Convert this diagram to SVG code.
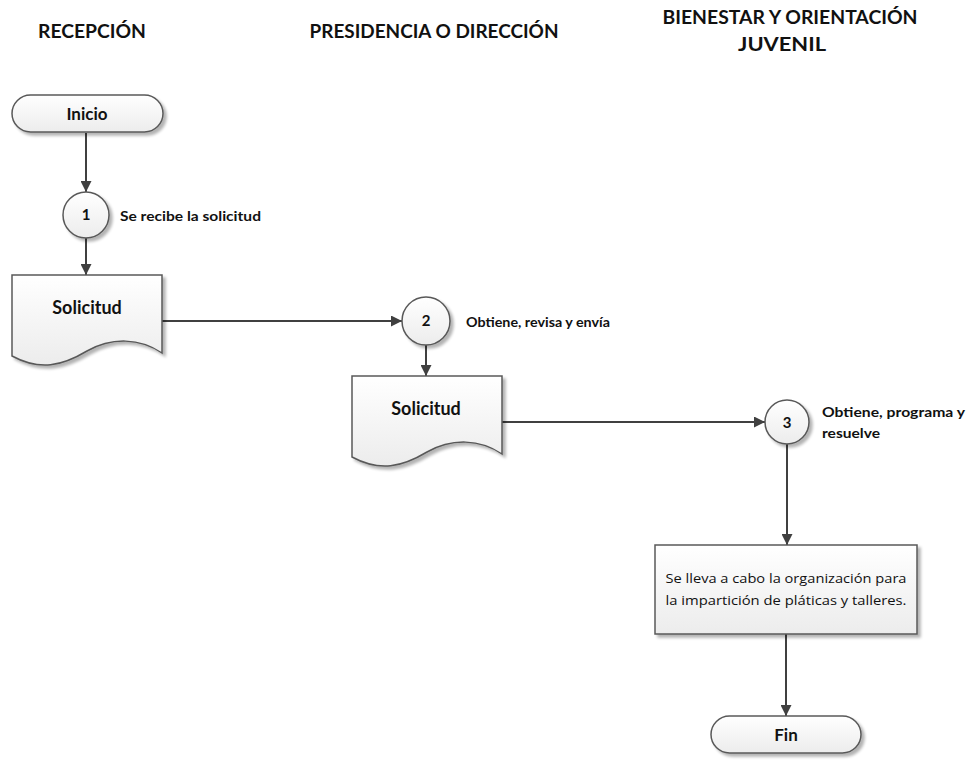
<svg xmlns="http://www.w3.org/2000/svg" width="974" height="773" viewBox="0 0 974 773">
<defs>
<linearGradient id="g" x1="0" y1="0" x2="0" y2="1">
<stop offset="0" stop-color="#ffffff"/>
<stop offset="1" stop-color="#ececec"/>
</linearGradient>
<filter id="sh" x="-10%" y="-10%" width="130%" height="140%">
<feGaussianBlur in="SourceAlpha" stdDeviation="1.5"/>
<feOffset dx="3" dy="3" result="b"/>
<feComponentTransfer><feFuncA type="linear" slope="0.3"/></feComponentTransfer>
<feMerge><feMergeNode/><feMergeNode in="SourceGraphic"/></feMerge>
</filter>
<marker id="ar" viewBox="0 0 10 10" refX="10" refY="5" markerWidth="5.5" markerHeight="5.5" orient="auto" markerUnits="strokeWidth">
<path d="M0,0 L10,5 L0,10 Z" fill="#404040"/>
</marker>
</defs>
<style>
.shape{fill:url(#g);stroke:#595959;stroke-width:1.5;filter:url(#sh)}
.conn{fill:none;stroke:#404040;stroke-width:2;marker-end:url(#ar)}
.hdr{font-family:Lato,"Open Sans",sans-serif;font-weight:700;font-size:18px;fill:#111}
.lbl{font-family:Lato,"Open Sans",sans-serif;font-weight:700;fill:#111}
.note{font-family:Lato,"Open Sans",sans-serif;font-weight:700;font-size:13px;fill:#111}
.body{font-family:"Open Sans",Lato,sans-serif;font-size:13px;fill:#111}
</style>
<rect width="974" height="773" fill="#ffffff"/>
<g id="headers">
<text class="hdr" x="92" y="38" text-anchor="middle" textLength="108" lengthAdjust="spacingAndGlyphs">RECEPCIÓN</text>
<text class="hdr" x="434" y="38" text-anchor="middle" textLength="249" lengthAdjust="spacingAndGlyphs">PRESIDENCIA O DIRECCIÓN</text>
<text class="hdr" x="790" y="24" text-anchor="middle" textLength="255" lengthAdjust="spacingAndGlyphs">BIENESTAR Y ORIENTACIÓN</text>
<text class="hdr" x="782" y="51" text-anchor="middle" textLength="88" lengthAdjust="spacingAndGlyphs">JUVENIL</text>
</g>
<g id="connectors">
<line class="conn" x1="86" y1="133" x2="86" y2="192"/>
<line class="conn" x1="86" y1="238" x2="86" y2="275"/>
<line class="conn" x1="162" y1="321" x2="402" y2="321"/>
<line class="conn" x1="426" y1="345" x2="426" y2="376"/>
<line class="conn" x1="502" y1="422" x2="765" y2="422"/>
<line class="conn" x1="787" y1="444" x2="787" y2="545"/>
<line class="conn" x1="786" y1="634" x2="786" y2="716"/>
</g>
<g id="inicio">
<rect class="shape" x="12" y="95" width="151" height="37" rx="18.5" ry="18.5"/>
<text class="lbl" x="87" y="120" font-size="17" text-anchor="middle">Inicio</text>
</g>
<g id="paso1">
<circle class="shape" cx="86" cy="215" r="23"/>
<text class="lbl" x="86" y="220" font-size="15" text-anchor="middle">1</text>
<text class="note" x="120" y="221" textLength="141" lengthAdjust="spacingAndGlyphs">Se recibe la solicitud</text>
</g>
<g id="solicitud1">
<path class="shape" d="M12,275 H162 V353 C140,338 112,337 87,351 C62,366 40,371 12,356 Z"/>
<text class="lbl" x="87" y="314" font-size="18" text-anchor="middle">Solicitud</text>
</g>
<g id="paso2">
<circle class="shape" cx="426" cy="321" r="24"/>
<text class="lbl" x="426" y="326" font-size="15" text-anchor="middle">2</text>
<text class="note" x="466" y="327" textLength="144" lengthAdjust="spacingAndGlyphs">Obtiene, revisa y envía</text>
</g>
<g id="solicitud2">
<path class="shape" d="M352,376 H502 V454 C480,439 452,438 427,452 C402,467 380,472 352,457 Z"/>
<text class="lbl" x="426" y="415" font-size="18" text-anchor="middle">Solicitud</text>
</g>
<g id="paso3">
<circle class="shape" cx="787" cy="422" r="22"/>
<text class="lbl" x="787" y="428" font-size="15" text-anchor="middle">3</text>
<text class="note" x="822" y="417" textLength="143" lengthAdjust="spacingAndGlyphs">Obtiene, programa y</text>
<text class="note" x="822" y="438" textLength="58" lengthAdjust="spacingAndGlyphs">resuelve</text>
</g>
<g id="actividad">
<rect class="shape" x="655" y="545" width="262" height="89"/>
<text class="body" x="786" y="583" text-anchor="middle" textLength="241" lengthAdjust="spacingAndGlyphs">Se lleva a cabo la organización para</text>
<text class="body" x="786" y="605" text-anchor="middle" textLength="241" lengthAdjust="spacingAndGlyphs">la impartición de pláticas y talleres.</text>
</g>
<g id="fin">
<rect class="shape" x="711" y="716" width="150" height="37" rx="18.5" ry="18.5"/>
<text class="lbl" x="786" y="741" font-size="17" text-anchor="middle">Fin</text>
</g>
</svg>
